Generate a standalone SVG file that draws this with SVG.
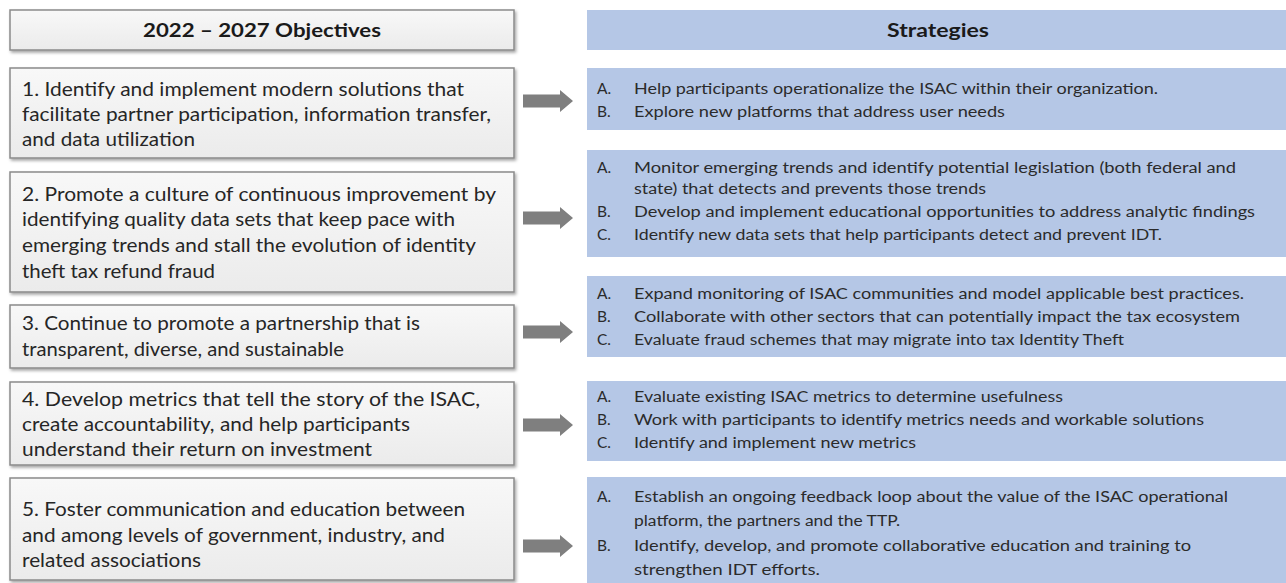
<svg xmlns="http://www.w3.org/2000/svg" width="1286" height="583" viewBox="0 0 1286 583">
<defs>
<linearGradient id="gray" x1="0" y1="0" x2="0" y2="1">
<stop offset="0" stop-color="#f8f8f8"/>
<stop offset="1" stop-color="#ebebeb"/>
</linearGradient>
<filter id="sh" x="-5%" y="-20%" width="110%" height="140%">
<feDropShadow dx="1.5" dy="2" stdDeviation="1.5" flood-color="#000" flood-opacity="0.35"/>
</filter>
<polygon id="arrow" points="0,-6.5 37,-6.5 37,-11 50,0 37,11 37,6.5 0,6.5" fill="#7f7f7f"/>
</defs>
<style>
.obj{fill:url(#gray);stroke:#8a8a8a;stroke-width:1.5;filter:url(#sh)}
.str{fill:#b5c7e6}
.lt{font-family:Lato,"Open Sans","Liberation Sans",sans-serif;font-size:19px;fill:#262626}
.rt{font-family:Lato,"Open Sans","Liberation Sans",sans-serif;font-size:15.5px;fill:#2b2b2b}
.hd{font-family:Lato,"Open Sans","Liberation Sans",sans-serif;font-size:19px;font-weight:bold;fill:#1a1a1a}
</style>
<rect width="1286" height="583" fill="#fff"/>

<g id="obj-header">
<rect class="obj" x="10" y="10" width="504" height="40"/>
<text class="hd" x="262" y="37" text-anchor="middle" textLength="238" lengthAdjust="spacingAndGlyphs">2022 – 2027 Objectives</text>
</g>
<g id="str-header">
<rect class="str" x="587" y="10" width="699" height="40"/>
<text class="hd" x="938" y="37" text-anchor="middle" textLength="102" lengthAdjust="spacingAndGlyphs">Strategies</text>
</g>

<g id="obj1">
<rect class="obj" x="10" y="68" width="504" height="90"/>
<text class="lt" x="22" y="96" textLength="442" lengthAdjust="spacingAndGlyphs">1. Identify and implement modern solutions that</text>
<text class="lt" x="22" y="121" textLength="469" lengthAdjust="spacingAndGlyphs">facilitate partner participation, information transfer,</text>
<text class="lt" x="22" y="146" textLength="173" lengthAdjust="spacingAndGlyphs">and data utilization</text>
</g>
<g id="obj2">
<rect class="obj" x="10" y="172" width="504" height="120"/>
<text class="lt" x="22" y="201" textLength="474" lengthAdjust="spacingAndGlyphs">2. Promote a culture of continuous improvement by</text>
<text class="lt" x="22" y="226" textLength="433" lengthAdjust="spacingAndGlyphs">identifying quality data sets that keep pace with</text>
<text class="lt" x="22" y="252" textLength="454" lengthAdjust="spacingAndGlyphs">emerging trends and stall the evolution of identity</text>
<text class="lt" x="22" y="278" textLength="193" lengthAdjust="spacingAndGlyphs">theft tax refund fraud</text>
</g>
<g id="obj3">
<rect class="obj" x="10" y="305" width="504" height="63"/>
<text class="lt" x="22" y="330" textLength="398" lengthAdjust="spacingAndGlyphs">3. Continue to promote a partnership that is</text>
<text class="lt" x="22" y="356" textLength="322" lengthAdjust="spacingAndGlyphs">transparent, diverse, and sustainable</text>
</g>
<g id="obj4">
<rect class="obj" x="10" y="382" width="504" height="83"/>
<text class="lt" x="22" y="406" textLength="458" lengthAdjust="spacingAndGlyphs">4. Develop metrics that tell the story of the ISAC,</text>
<text class="lt" x="22" y="431" textLength="388" lengthAdjust="spacingAndGlyphs">create accountability, and help participants</text>
<text class="lt" x="22" y="456" textLength="350" lengthAdjust="spacingAndGlyphs">understand their return on investment</text>
</g>
<g id="obj5">
<rect class="obj" x="10" y="478" width="504" height="102"/>
<text class="lt" x="22" y="516" textLength="443" lengthAdjust="spacingAndGlyphs">5. Foster communication and education between</text>
<text class="lt" x="22" y="542" textLength="423" lengthAdjust="spacingAndGlyphs">and among levels of government, industry, and</text>
<text class="lt" x="22" y="567" textLength="179" lengthAdjust="spacingAndGlyphs">related associations</text>
</g>

<g id="str1">
<rect class="str" x="587" y="68" width="699" height="62"/>
<text class="rt" x="597" y="94">A.</text>
<text class="rt" x="634" y="94" textLength="524" lengthAdjust="spacingAndGlyphs">Help participants operationalize the ISAC within their organization.</text>
<text class="rt" x="597" y="117">B.</text>
<text class="rt" x="634" y="117" textLength="371" lengthAdjust="spacingAndGlyphs">Explore new platforms that address user needs</text>
</g>
<g id="str2">
<rect class="str" x="587" y="150" width="699" height="107"/>
<text class="rt" x="597" y="173">A.</text>
<text class="rt" x="634" y="173" textLength="602" lengthAdjust="spacingAndGlyphs">Monitor emerging trends and identify potential legislation (both federal and</text>
<text class="rt" x="634" y="194" textLength="352" lengthAdjust="spacingAndGlyphs">state) that detects and prevents those trends</text>
<text class="rt" x="597" y="217">B.</text>
<text class="rt" x="634" y="217" textLength="621" lengthAdjust="spacingAndGlyphs">Develop and implement educational opportunities to address analytic findings</text>
<text class="rt" x="597" y="240">C.</text>
<text class="rt" x="634" y="240" textLength="528" lengthAdjust="spacingAndGlyphs">Identify new data sets that help participants detect and prevent IDT.</text>
</g>
<g id="str3">
<rect class="str" x="587" y="276" width="699" height="81"/>
<text class="rt" x="597" y="299">A.</text>
<text class="rt" x="634" y="299" textLength="610" lengthAdjust="spacingAndGlyphs">Expand monitoring of ISAC communities and model applicable best practices.</text>
<text class="rt" x="597" y="322">B.</text>
<text class="rt" x="634" y="322" textLength="606" lengthAdjust="spacingAndGlyphs">Collaborate with other sectors that can potentially impact the tax ecosystem</text>
<text class="rt" x="597" y="345">C.</text>
<text class="rt" x="634" y="345" textLength="490" lengthAdjust="spacingAndGlyphs">Evaluate fraud schemes that may migrate into tax Identity Theft</text>
</g>
<g id="str4">
<rect class="str" x="587" y="381" width="699" height="80"/>
<text class="rt" x="597" y="402">A.</text>
<text class="rt" x="634" y="402" textLength="429" lengthAdjust="spacingAndGlyphs">Evaluate existing ISAC metrics to determine usefulness</text>
<text class="rt" x="597" y="425">B.</text>
<text class="rt" x="634" y="425" textLength="570" lengthAdjust="spacingAndGlyphs">Work with participants to identify metrics needs and workable solutions</text>
<text class="rt" x="597" y="448">C.</text>
<text class="rt" x="634" y="448" textLength="282" lengthAdjust="spacingAndGlyphs">Identify and implement new metrics</text>
</g>
<g id="str5">
<rect class="str" x="587" y="477" width="699" height="106"/>
<text class="rt" x="597" y="502">A.</text>
<text class="rt" x="634" y="502" textLength="594" lengthAdjust="spacingAndGlyphs">Establish an ongoing feedback loop about the value of the ISAC operational</text>
<text class="rt" x="634" y="526" textLength="266" lengthAdjust="spacingAndGlyphs">platform, the partners and the TTP.</text>
<text class="rt" x="597" y="551">B.</text>
<text class="rt" x="634" y="551" textLength="557" lengthAdjust="spacingAndGlyphs">Identify, develop, and promote collaborative education and training to</text>
<text class="rt" x="634" y="575" textLength="186" lengthAdjust="spacingAndGlyphs">strengthen IDT efforts.</text>
</g>

<g id="connectors">
<use href="#arrow" x="523" y="101"/>
<use href="#arrow" x="523" y="218"/>
<use href="#arrow" x="523" y="332"/>
<use href="#arrow" x="523" y="425"/>
<use href="#arrow" x="523" y="546"/>
</g>
</svg>
